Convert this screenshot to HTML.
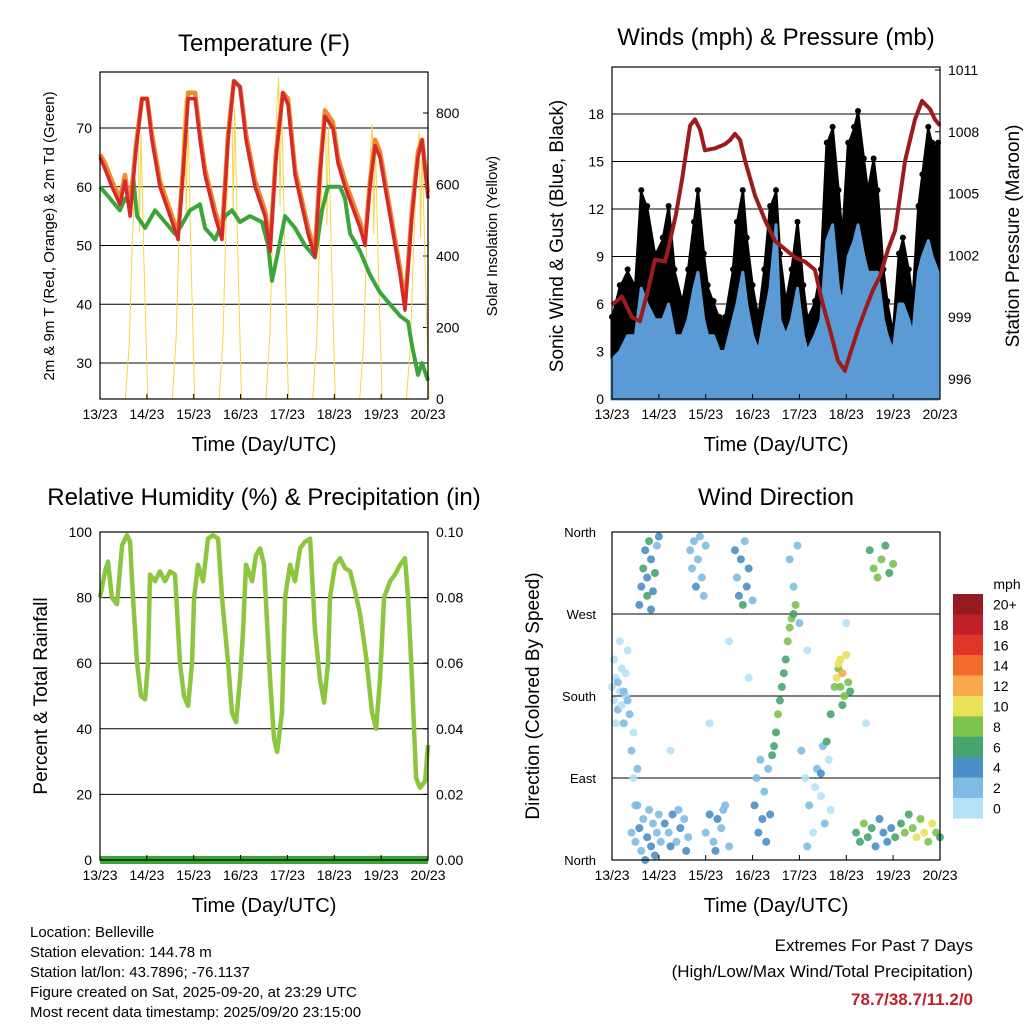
<!DOCTYPE html>
<html><head><meta charset="utf-8"><style>
html,body{margin:0;padding:0;background:#fff;}
svg{display:block;font-family:"Liberation Sans",Arial,sans-serif;}
</style></head><body>
<svg id="c" width="1024" height="1024" viewBox="0 0 1024 1024" xmlns="http://www.w3.org/2000/svg">
<g id="layer"></g>
</svg>
<script>
// ---------- Temperature data ----------
const tempHours=[0,2.6,6.1,10.2,12.8,15.4,18.4,21.5,24.1,26.6,30.7,35.9,40,42.5,45.1,48.7,51.2,53.8,58.9,62.5,65.6,68.6,71.7,74.8,79.4,84.5,87.1,90.2,93.7,96.3,99.9,106.6,110.1,112.7,115.2,119.3,121.9,125.5,133.2,135.8,138.3,140.9,143.4,146,148.6,153.7,156.2,159.8,162.9,165,168];
const tempRed=[65,63,60,57,61,55,66,75,75,68,60,55,51,62,75,75,68,62,55,51,68,78,77,68,60,55,49,65,76,74,62,52,48,62,72,70,64,60,53,50,60,67,65,60,55,45,39,55,65,68,58];
const tempOrange=[65.5,64,61,58,62,56,67,75,75,69,61,56,52,63,76,76,69,63,56,52,69,78,77,69,61,56,50,66,76,75,63,53,49,63,73,71,65,61,54,51,61,68,66,61,56,46,40,56,66,68,59];
const dewHours=[0,5.1,10.2,12.8,15.4,16.9,19,23.1,28.2,33.3,38.4,41,46.1,51.2,53.8,58.9,64,67.6,71.7,76.8,83,86.1,88.1,91.2,94.8,99.9,105,110.1,113.7,116.8,123,125.5,128.1,133.2,138.3,143.4,148.6,153.7,157.8,159.8,162.9,165,168];
const dewValues=[60,58,56,58,57,62,55,53,56,54,52,53,56,57,53,51,55,56,54,55,54,50,44,49,55,53,50,48,56,60,60,58,52,49,45,42,40,38,37,33,28,30,27];
const solarDayEnd=[24,48,72,96,120,144,168];
const solarPeaks=[780,840,860,900,810,770,750];
const tempTicks=[30,40,50,60,70];
const solarTicks=[0,200,400,600,800];
const dayLabels=["13/23","14/23","15/23","16/23","17/23","18/23","19/23","20/23"];
// ---------- Wind data ----------
const windHours=[0,4,8,12,15,18,22,26,29,32,36,39,42,44,47,49,52,55,58,62,64,67,69,72,75,78,81,84,86,89,92,95,98,100,104,107,110,113,116,118,121,124,126,129,131,134,136,139,141,144,147,149,152,154,157,159,162,164,167];
const gustValues=[5,7,8,7,13,12,9,10,12,8,6,8,11,13,9,7,6,5,5,8,11,13,10,7,5,8,12,13,9,6,8,11,7,5,6,8,16,17,13,10,16,17,18,15,13,15,13,8,6,4,9,10,8,6,12,14,17,16,16];
const windValues=[2.5,3,4,4,7,6,5,5,6,4,4,5,7,8,5,4,4,3,3,5,6,8,6,4,3,5,7,11,5,4,5,7,4,3,4,5,10,11,7,6,9,10,11,9,8,8,8,5,4,3,6,6,5,4,8,9,10,9,8];
const presHours=[0,5.1,10.2,14.3,18.4,22,27.2,29.7,32.8,35.9,40,42.5,45.1,47.6,52.8,57.9,60.5,63,65.6,68.1,73.3,78.4,83.5,88.6,93.7,98.8,103.9,107.5,111.6,115.7,119.3,121.9,126,129.5,133.6,137.3,141.4,145,150.1,155.2,158.8,162.9,165.4,168];
const presValues=[999.6,1000,999,998.8,1000.3,1001.8,1001.7,1002.7,1004,1005.7,1008.3,1008.6,1008.1,1007.1,1007.2,1007.4,1007.6,1007.9,1007.6,1006.6,1004.9,1003.7,1002.7,1002.3,1001.9,1001.7,1001.3,999.8,998.4,996.9,996.4,997.2,998.4,999.3,1000.3,1001,1002.3,1003.2,1006.6,1008.6,1009.5,1009.1,1008.6,1008.3];
const windTicks=[0,3,6,9,12,15,18];
const presTicks=[996,999,1002,1005,1008,1011];
// ---------- RH data ----------
const rhHours=[0,2.6,4.1,6.1,8.7,11.3,13.8,15.4,16.9,19,21,23.1,24.6,25.6,28.2,30.7,33.3,35.9,38.4,41,43,45.1,47.1,48.2,50.2,52.8,55.3,57.9,60.5,62.5,65.6,67.6,69.7,71.7,73.3,74.8,77.9,79.9,82,84,87.1,89.1,90.7,93.2,94.8,97.3,99.9,102.5,105,107.6,110.1,112.7,114.8,116.8,117.8,120.4,123,125.5,128.1,130.6,133.2,136.3,139.3,141.4,143.4,145.5,148.6,151.1,153.7,156.2,157.8,159.8,161.9,163.9,166.5,168];
const rhValues=[80,88,91,80,78,96,99,97,80,60,50,49,60,87,85,88,85,88,87,60,50,47,60,80,90,85,98,99,98,80,60,45,42,55,70,90,85,93,95,90,55,37,33,45,80,90,85,95,97,98,70,55,48,60,80,90,92,89,88,82,75,62,45,40,55,80,85,87,90,92,80,55,25,22,24,35];
const rhTicks=[0,20,40,60,80,100];
const precipTicks=["0.00","0.02","0.04","0.06","0.08","0.10"];
// ---------- Wind direction data ----------
const dirHours=[0,1,2,3,4,5,6,7,8,9,1,3,5,7,2,6,4,8,10,11,12,10,13,11,12,14,15,16,18,19,20,21,22,23,24,17,13,25,14,15,16,17,18,19,20,21,22,23,24,18,20,27,29,31,33,35,37,39,30,34,38,40,41,42,43,44,45,46,47,48,48,50,52,54,56,58,60,53,57,63,64,65,66,67,68,69,70,72,73,74,75,76,77,78,79,80,81,82,83,84,85,86,87,88,89,90,91,92,93,94,91,93,95,96,97,99,101,103,105,107,109,111,100,104,108,112,107,110,112,114,116,117,115,116,117,118,119,120,121,122,118,125,127,129,131,133,135,137,139,141,143,145,132,134,136,138,140,142,144,148,150,152,154,156,158,160,162,164,166,168,50,70,100,120,60,30,130];
const dirDegrees=[190,175,200,165,185,210,150,180,230,160,220,195,170,205,150,185,240,175,120,90,60,30,100,140,20,35,10,45,25,55,15,40,5,30,50,0,60,20,280,300,320,340,310,350,330,295,315,345,355,290,275,40,30,50,20,35,45,25,15,55,10,340,320,350,300,330,355,310,290,345,30,50,20,45,35,60,15,10,55,340,310,290,330,280,350,300,320,285,60,90,30,110,45,75,20,100,50,115,125,140,160,175,190,205,220,240,255,265,270,280,330,300,345,260,120,90,60,30,100,70,40,110,15,80,125,55,95,130,160,190,210,220,200,215,190,205,180,225,195,185,170,30,20,40,25,35,15,45,30,20,35,25,340,320,310,330,345,315,325,40,30,50,35,25,45,30,20,40,30,25,150,200,230,260,240,120,150];
const dirSpeeds=[1,1,1,2,1,1,2,1,1,2,1,2,1,1,1,2,1,2,2,1,3,2,2,1,3,4,3,2,4,3,4,3,4,2,3,4,2,3,5,4,6,5,4,6,5,4,6,3,4,6,5,4,3,4,3,4,3,2,4,3,4,3,2,3,4,3,2,3,2,3,3,4,3,4,3,2,3,4,3,4,3,5,4,6,3,4,5,3,4,3,4,2,4,3,4,3,4,6,7,6,8,7,6,7,6,8,9,9,7,8,3,2,2,3,2,1,2,1,2,1,2,1,2,1,2,1,5,6,7,8,9,10,10,11,9,12,8,10,9,7,6,7,6,8,7,6,5,4,5,4,5,6,7,8,9,8,7,6,8,7,8,6,9,10,8,11,9,10,8,7,1,1,1,1,1,1,1];
const dirTickLabels=["North","East","South","West","North"];
const speedBins=["0","2","4","6","8","10","12","14","16","18","20+"];
const speedColors=["#b5e2f7","#7fbbe3","#4a8fc5","#46a56f","#7cc24d","#e9e15a","#f9a84a","#f26a2c","#e0352b","#c0202a","#961b1e"];

const NS="http://www.w3.org/2000/svg";
const root=document.getElementById('layer');
function mk(tag,attrs,parent){const e=document.createElementNS(NS,tag);for(const k in attrs)e.setAttribute(k,attrs[k]);(parent||root).appendChild(e);return e;}
function txt(s,x,y,size,anchor,extra,parent){const t=mk('text',Object.assign({x:x,y:y,'font-size':size,'text-anchor':anchor||'middle',fill:'#000'},extra||{}),parent);t.textContent=s;return t;}
function pts(xs,ys){return xs.map((x,i)=>x.toFixed(1)+','+ys[i].toFixed(1)).join(' ');}

const P1={x0:100,x1:428,y0:72,y1:399};
const P2={x0:612,x1:940,y0:67,y1:399};
const P3={x0:100,x1:428,y0:532,y1:860};
const P4={x0:612,x1:940,y0:532,y1:860};
const xH=(p,h)=>p.x0+h*(p.x1-p.x0)/168;
const yTemp=v=>363-(v-30)*5.875;
const ySolar=v=>399-v*0.3575;
const yWind=v=>399-v*15.833;
const yPres=v=>379-(v-996)*20.6;
const yRH=v=>860-v*3.28;
const yDir=d=>860-d*0.9111;

function xAxis(p,name){
  const g=mk('g',{});
  
  
  dayLabels.forEach((l,i)=>{const x=xH(p,i*24);mk('line',{x1:x,y1:p.y1,x2:x,y2:p.y1-5,stroke:'#000','stroke-width':1},g);txt(l,x,p.y1+20,14,'middle',{},g);});
  txt("Time (Day/UTC)",(p.x0+p.x1)/2,p.y1+52,20,'middle',{},g);
}
function frame(p,name){const r=mk('rect',{x:p.x0,y:p.y0,width:p.x1-p.x0,height:p.y1-p.y0,fill:'none',stroke:'#000','stroke-width':1.2});}
function hgrid(p,y){mk('line',{x1:p.x0,x2:p.x1,y1:y,y2:y,stroke:'#000','stroke-width':1});}

// ===== Panel 1 =====
{
const p=P1;
const t=txt("Temperature (F)",264,51,24);
tempTicks.forEach(v=>{const y=yTemp(v);hgrid(p,y);txt(String(v),p.x0-8,y+5,14,'end');});
solarTicks.forEach(v=>{const y=ySolar(v);mk('line',{x1:p.x1,x2:p.x1-5,y1:y,y2:y,stroke:'#000'});txt(String(v),p.x1+8,y+5,14,'start');});
const sg=mk('g',{});
solarPeaks.forEach((pk,i)=>{const end=solarDayEnd[i],peakH=end-4.5,rise=end-11,set=end+0.5;
 const hs=[rise,rise+2,rise+3.5,peakH-1,peakH,peakH+0.7,peakH+1.5,peakH+3,set];
 const fr=[0,0.2,0.55,0.9,1,0.6,0.95,0.5,0];
 const l=mk('polyline',{points:pts(hs.map(h=>xH(p,h)),fr.map(f=>ySolar(f*pk))),fill:'none',stroke:'#f5d547','stroke-width':1},sg);
 });
const dl=mk('polyline',{points:pts(dewHours.map(h=>xH(p,h)),dewValues.map(yTemp)),fill:'none',stroke:'#3aa63a','stroke-width':4,'stroke-linejoin':'round'});

const ol=mk('polyline',{points:pts(tempHours.map(h=>xH(p,h)),tempOrange.map(yTemp)),fill:'none',stroke:'#f08a2c','stroke-width':4.5,'stroke-linejoin':'round'});

const rl=mk('polyline',{points:pts(tempHours.map(h=>xH(p,h)),tempRed.map(yTemp)),fill:'none',stroke:'#d42a2a','stroke-width':3.5,'stroke-linejoin':'round'});

frame(p,'temperature-plot-frame');xAxis(p,'temperature-x-axis');
const a=txt("2m & 9m T (Red, Orange) & 2m Td (Green)",0,0,15,'middle',{transform:'translate(54,236) rotate(-90)'});
const b=txt("Solar Insolation (Yellow)",0,0,15,'middle',{transform:'translate(497,236) rotate(-90)'});
}
// ===== Panel 2 =====
{
const p=P2;
const t=txt("Winds (mph) & Pressure (mb)",776,45,24);
windTicks.forEach(v=>{const y=yWind(v);if(v>0)hgrid(p,y);txt(String(v),p.x0-8,y+5,14,'end');});
presTicks.forEach(v=>{const y=yPres(v);mk('line',{x1:p.x1,x2:p.x1-5,y1:y,y2:y,stroke:'#000'});txt(String(v),p.x1+8,y+5,14,'start');});
const xs=windHours.map(h=>xH(p,h));
const gp=mk('polygon',{points:pts([xs[0]].concat(xs,[xs[xs.length-1]]),[399].concat(gustValues.map(yWind),[399])),fill:'#000',stroke:'#000','stroke-width':3,'stroke-linejoin':'round'});

const gd=mk('g',{});
gustValues.forEach((v,i)=>{const c=mk('circle',{cx:xs[i],cy:yWind(v)-3,r:3,fill:'#000'},gd);});
const wp=mk('polygon',{points:pts([xs[0]].concat(xs,[xs[xs.length-1]]),[399].concat(windValues.map(yWind),[399])),fill:'#5b9bd5',stroke:'#5b9bd5','stroke-width':3,'stroke-linejoin':'round'});

const pl=mk('polyline',{points:pts(presHours.map(h=>xH(p,h)),presValues.map(yPres)),fill:'none',stroke:'#9e1b1b','stroke-width':4,'stroke-linejoin':'round'});

frame(p,'winds-plot-frame');xAxis(p,'winds-x-axis');
const a=txt("Sonic Wind & Gust (Blue, Black)",0,0,19,'middle',{transform:'translate(563,236) rotate(-90)'});
const b=txt("Station Pressure (Maroon)",0,0,19,'middle',{transform:'translate(1019,236) rotate(-90)'});
}
// ===== Panel 3 =====
{
const p=P3;
const t=txt("Relative Humidity (%) & Precipitation (in)",264,505,24);
rhTicks.forEach((v,i)=>{const y=yRH(v);if(v>0&&v<100)hgrid(p,y);txt(String(v),p.x0-8,y+5,14,'end');txt(precipTicks[i],p.x1+8,y+5,14,'start');mk('line',{x1:p.x1,x2:p.x1-5,y1:y,y2:y,stroke:'#000'});});
const rl=mk('polyline',{points:pts(rhHours.map(h=>xH(p,h)),rhValues.map(yRH)),fill:'none',stroke:'#8cc63f','stroke-width':4.5,'stroke-linejoin':'round'});

const pr=mk('line',{x1:p.x0,x2:p.x1,y1:yRH(0),y2:yRH(0),stroke:'#3aa63a','stroke-width':8});

frame(p,'humidity-plot-frame');xAxis(p,'humidity-x-axis');
const a=txt("Percent & Total Rainfall",0,0,19,'middle',{transform:'translate(47,696) rotate(-90)'});
}
// ===== Panel 4 =====
{
const p=P4;
const t=txt("Wind Direction",776,505,24);
dirTickLabels.forEach((l,i)=>{const y=yDir(i*90);if(i>0&&i<4)hgrid(p,y);txt(l,p.x0-16,y+5,13,'end');});
const dg=mk('g',{});
dirHours.forEach((h,i)=>{const bin=Math.min(10,Math.floor(dirSpeeds[i]/2));
 const c=mk('circle',{cx:xH(p,h),cy:yDir(dirDegrees[i]),r:4,fill:speedColors[bin],'fill-opacity':0.9},dg);
 });
frame(p,'wind-direction-plot-frame');xAxis(p,'wind-direction-x-axis');
const a=txt("Direction (Colored By Speed)",0,0,19,'middle',{transform:'translate(539,696) rotate(-90)'});
const lg=mk('g',{});
txt("mph",1007,589,14,'middle',{},lg);
for(let k=10;k>=0;k--){const y=594+(10-k)*20.4;
 const r=mk('rect',{x:953,y:y,width:30,height:20.6,fill:speedColors[k]},lg);
 
 txt(speedBins[k],993,y+15.5,14,'start',{},lg);}
}
// ===== Footer =====
const info=["Location: Belleville","Station elevation: 144.78 m","Station lat/lon: 43.7896; -76.1137","Figure created on Sat, 2025-09-20, at 23:29 UTC","Most recent data timestamp: 2025/09/20 23:15:00"];
const ig=mk('g',{});
info.forEach((s,i)=>txt(s,30,937+i*20,15,'start',{},ig));
const eg=mk('g',{});
txt("Extremes For Past 7 Days",973,951,17,'end',{},eg);
txt("(High/Low/Max Wind/Total Precipitation)",973,977,17,'end',{},eg);
txt("78.7/38.7/11.2/0",973,1005,17,'end',{fill:'#c0202a','font-weight':'bold'},eg);
</script>
</body></html>
